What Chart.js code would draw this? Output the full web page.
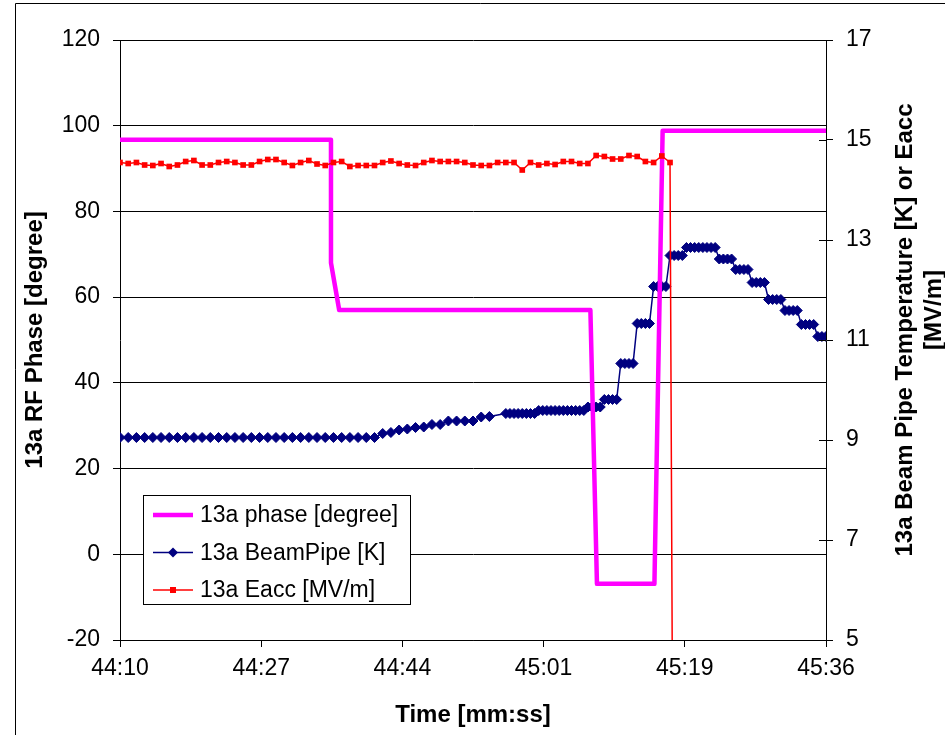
<!DOCTYPE html>
<html>
<head>
<meta charset="utf-8">
<script src="https://cdn.jsdelivr.net/npm/chart.js@4.4.1/dist/chart.umd.min.js"></script>
<style>
  html, body { margin: 0; padding: 0; background: #fff; }
  canvas { display: block; }
</style>
</head>
<body>
<canvas id="myChart" width="945" height="735"></canvas>
<script>
// time is in seconds after 44:10
const timeTicks = [0, 17.2, 34.4, 51.6, 68.8, 86];
const timeLabels = ["44:10", "44:27", "44:44", "45:01", "45:19", "45:36"];

// RF phase, degrees (left axis)
const phaseTime = [0, 25.7, 25.7, 26.7, 57.3, 58.1, 65.1, 66.1, 86];
const phaseDeg = [96.7, 96.7, 68.0, 57.0, 57.0, -6.9, -6.9, 98.8, 98.8];

// beam pipe temperature, K (right axis) - 1 s logging, then 0.5 s
const beamTime = [
  0, 1, 2, 3, 4, 5, 6, 7, 8, 9, 10, 11, 12, 13, 14, 15, 16, 17, 18, 19,
  20, 21, 22, 23, 24, 25, 26, 27, 28, 29, 30, 31, 32, 33, 34, 35, 36, 37, 38, 39,
  40, 41, 42, 43, 44, 45,
  47, 47.5, 48, 48.5, 49, 49.5, 50, 50.5,
  51, 51.5, 52, 52.5, 53, 53.5, 54, 54.5, 55, 55.5, 56, 56.5,
  57, 57.5, 58, 58.5, 59, 59.5, 60, 60.5,
  61, 61.5, 62, 62.5, 63, 63.5, 64, 64.5, 65, 65.5, 66, 66.5,
  67, 67.5, 68, 68.5, 69, 69.5, 70, 70.5, 71, 71.5, 72, 72.5,
  73, 73.5, 74, 74.5, 75, 75.5, 76, 76.5, 77, 77.5, 78, 78.5,
  79, 79.5, 80, 80.5, 81, 81.5, 82, 82.5, 83, 83.5, 84, 84.5,
  85, 85.5, 86
];
const beamK = [
  9.05, 9.05, 9.05, 9.05, 9.05, 9.05, 9.05, 9.05, 9.05, 9.05, 9.05, 9.05, 9.05, 9.05, 9.05, 9.05,
  9.05, 9.05, 9.05, 9.05, 9.05, 9.05, 9.05, 9.05, 9.05, 9.05, 9.05, 9.05, 9.05, 9.05, 9.05, 9.05,
  9.13, 9.15, 9.20, 9.22, 9.25, 9.26, 9.31, 9.31, 9.38, 9.38, 9.38, 9.38, 9.46, 9.47,
  9.53, 9.53, 9.53, 9.53, 9.53, 9.53, 9.53, 9.53,
  9.59, 9.59, 9.59, 9.59, 9.59, 9.59, 9.59, 9.59, 9.59, 9.59, 9.59, 9.59,
  9.66, 9.66, 9.66, 9.66, 9.81, 9.81, 9.81, 9.81,
  10.53, 10.53, 10.53, 10.53, 11.33, 11.33, 11.33, 11.33, 12.07, 12.07, 12.07, 12.07,
  12.69, 12.69, 12.69, 12.69, 12.85, 12.85, 12.85, 12.85, 12.85, 12.85, 12.85, 12.85,
  12.62, 12.62, 12.62, 12.62, 12.41, 12.41, 12.41, 12.41, 12.15, 12.15, 12.15, 12.15,
  11.81, 11.81, 11.81, 11.81, 11.59, 11.59, 11.59, 11.59, 11.31, 11.31, 11.31, 11.31,
  11.07, 11.07, 11.07
];

// accelerating field, MV/m (right axis); RF trips after 45:17
const eaccTime = [
  0, 1, 2, 3, 4, 5, 6, 7, 8, 9, 10, 11, 12, 13, 14, 15, 16, 17, 18, 19,
  20, 21, 22, 23, 24, 25, 26, 27, 28, 29, 30, 31, 32, 33, 34, 35, 36, 37, 38, 39,
  40, 41, 42, 43, 44, 45, 46, 47, 48, 49, 50, 51, 52, 53, 54, 55, 56, 57, 58, 59,
  60, 61, 62, 63, 64, 65, 66, 67, 67.4
];
const eaccMV = [
  14.55, 14.53, 14.55, 14.50, 14.49, 14.53, 14.47, 14.50, 14.57, 14.59,
  14.50, 14.50, 14.55, 14.57, 14.55, 14.50, 14.50, 14.57, 14.61, 14.61,
  14.55, 14.49, 14.55, 14.59, 14.52, 14.49, 14.55, 14.57, 14.47, 14.49,
  14.49, 14.49, 14.55, 14.58, 14.53, 14.50, 14.49, 14.55, 14.59, 14.57,
  14.57, 14.57, 14.55, 14.50, 14.49, 14.49, 14.55, 14.55, 14.55, 14.40,
  14.55, 14.50, 14.53, 14.51, 14.57, 14.57, 14.53, 14.53, 14.69, 14.67,
  14.62, 14.62, 14.69, 14.67, 14.57, 14.55, 14.68, 14.55, 0
];

const xTitle = "Time [mm:ss]";
const leftTitle = "13a RF Phase [degree]";
const rightTitle = ["13a Beam Pipe Temperature [K] or Eacc", "[MV/m]"];

const FONT = '"Liberation Sans", Arial, sans-serif';
Chart.defaults.font.family = FONT;
Chart.defaults.font.size = 23;
Chart.defaults.color = "#000";

function pairs(xs, ys) {
  return xs.map((x, i) => ({ x: x, y: ys[i] }));
}

const data = {
  datasets: [
    {
      label: "13a phase [degree]",
      data: pairs(phaseTime, phaseDeg),
      yAxisID: "y",
      borderColor: "#FF00FF",
      borderWidth: 4.5,
      borderJoinStyle: "round",
      pointRadius: 0,
      order: 1,
    },
    {
      label: "13a BeamPipe [K]",
      data: pairs(beamTime, beamK),
      yAxisID: "y2",
      borderColor: "#000080",
      backgroundColor: "#000080",
      borderWidth: 1.5,
      pointStyle: "rectRot",
      pointRadius: 5,
      pointBorderWidth: 1,
      order: 2,
    },
    {
      label: "13a Eacc [MV/m]",
      data: pairs(eaccTime, eaccMV),
      yAxisID: "y2",
      borderColor: "#FF0000",
      backgroundColor: "#FF0000",
      borderWidth: 1.5,
      pointStyle: "rect",
      pointRadius: 4,
      pointBorderWidth: 0,
      order: 0,
    },
  ],
};

function rotatedText(c, text, x, y) {
  c.save();
  c.translate(x, y);
  c.rotate(-Math.PI / 2);
  c.fillText(text, 0, 0);
  c.restore();
}

function legendMarker(c, style, x, y) {
  c.beginPath();
  if (style === "rectRot") {
    c.moveTo(x, y - 5);
    c.lineTo(x + 5, y);
    c.lineTo(x, y + 5);
    c.lineTo(x - 5, y);
    c.closePath();
  } else if (style === "rect") {
    c.rect(x - 3, y - 3, 6, 6);
  }
  c.fill();
}

const decorations = {
  id: "decorations",
  afterDraw(chart) {
    const c = chart.ctx;
    const area = chart.chartArea;
    c.save();

    // figure frame
    c.strokeStyle = "#000";
    c.lineWidth = 1;
    c.beginPath();
    c.moveTo(15.5, 735);
    c.lineTo(15.5, 3.5);
    c.lineTo(945, 3.5);
    c.stroke();

    // right axis ticks cross the axis line
    const y2 = chart.scales.y2;
    c.beginPath();
    y2.ticks.forEach((t) => {
      const py = Math.round(y2.getPixelForValue(t.value)) + 0.5;
      c.moveTo(area.right - 7, py);
      c.lineTo(area.right, py);
    });
    c.stroke();

    // axis titles
    c.fillStyle = "#000";
    c.font = "bold 24px " + FONT;
    c.textAlign = "center";
    c.textBaseline = "middle";
    c.fillText(xTitle, (area.left + area.right) / 2, 715);
    rotatedText(c, leftTitle, 35, (area.top + area.bottom) / 2);
    rotatedText(c, rightTitle[0], 905, 330);
    rotatedText(c, rightTitle[1], 934, 310);

    // legend box
    const bx = 143.5, by = 495.5, bw = 267, bh = 109;
    c.fillStyle = "#fff";
    c.fillRect(bx, by, bw, bh);
    c.strokeRect(bx, by, bw, bh);
    c.font = "23px " + FONT;
    c.textAlign = "left";
    chart.data.datasets.forEach((ds, i) => {
      const ry = 515 + i * 37.5;
      c.strokeStyle = ds.borderColor;
      c.lineWidth = ds.borderWidth;
      c.beginPath();
      c.moveTo(153, ry);
      c.lineTo(193, ry);
      c.stroke();
      if (ds.pointRadius > 0) {
        c.fillStyle = ds.backgroundColor;
        legendMarker(c, ds.pointStyle, 173, ry);
      }
      c.fillStyle = "#000";
      c.fillText(ds.label, 200, ry + 1);
    });

    c.restore();
  },
};

const config = {
  type: "line",
  data: data,
  options: {
    responsive: false,
    animation: false,
    layout: { padding: { top: 40, left: 0, right: 0, bottom: 0 } },
    elements: { line: { tension: 0 } },
    plugins: {
      legend: { display: false },
      tooltip: { enabled: false },
    },
    scales: {
      x: {
        type: "linear",
        min: 0,
        max: 86,
        afterBuildTicks: (scale) => {
          scale.ticks = timeTicks.map((v) => ({ value: v }));
        },
        afterFit: (scale) => {
          scale.height = 95;
        },
        ticks: {
          autoSkip: false,
          maxRotation: 0,
          padding: 8,
          callback: (value, index) => timeLabels[index],
        },
        grid: {
          drawOnChartArea: false,
          drawTicks: true,
          tickLength: 7,
          color: "#000",
        },
        border: { color: "#000", width: 1 },
      },
      y: {
        position: "left",
        min: -20,
        max: 120,
        afterFit: (scale) => {
          scale.width = 120;
        },
        ticks: { stepSize: 20, padding: 13 },
        grid: { color: "#000", lineWidth: 1, tickLength: 7 },
        border: { color: "#000", width: 1 },
      },
      y2: {
        position: "right",
        min: 5,
        max: 17,
        afterFit: (scale) => {
          scale.width = 119;
        },
        ticks: { stepSize: 2, padding: 13 },
        grid: { drawOnChartArea: false, color: "#000", tickLength: 7 },
        border: { color: "#000", width: 1 },
      },
    },
  },
  plugins: [decorations],
};

const canvas = document.getElementById("myChart");
const ctx = canvas.getContext("2d");
const myChart = new Chart(ctx, config);
</script>
</body>
</html>
